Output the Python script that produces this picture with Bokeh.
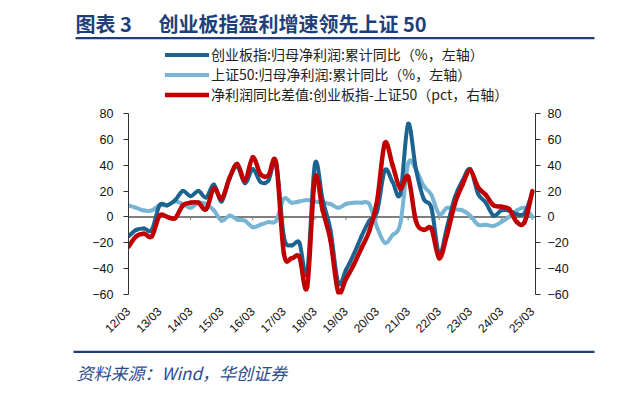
import pandas as pd
from bokeh.plotting import figure
from bokeh.models import (Range1d, LinearAxis, FixedTicker, Span, Legend, LegendItem,
                          Label, BoxAnnotation)
from bokeh.embed import file_html
from bokeh.resources import INLINE

# ---------------- data ----------------
quarters = pd.period_range("2012Q1", "2025Q1", freq="Q")  # 12/03 ... 25/03, 53 quarters
tick_years = list(range(2012, 2026))
tick_labels = ["12/03", "13/03", "14/03", "15/03", "16/03", "17/03", "18/03",
               "19/03", "20/03", "21/03", "22/03", "23/03", "24/03", "25/03"]
y_ticks = [-60, -40, -20, 0, 20, 40, 60, 80]

# 创业板指:归母净利润:累计同比 (%)
cyb = [-15, -10, -9, -10, 9, 9, 13, 20, 16, 20, 15, 25, 12,
       30, 39, 26, 37, 27, 28, 41, -15, -22, -20, -43, 41, 13,
       -10, -51, -41, -29, -15, -3, 4, 36, 27, 18, 72, 37, 14,
       7, -29, -8, 15, 28, 37, 18, 11, 1, 5, 5, 2, 3, 19]
# 上证50:归母净利润:累计同比 (%)
sz50 = [9, 7, 5, 5, 9, 9, 12, 10, 7, 11, 10, 5, -3,
        1, -2, -3, -8, -6, -4, -3, 14, 11, 12, 13, 12, 11,
        10, 7, 10, 11, 11, 10, -8, -20, -14, -5, 41, 37, 24,
        17, 2, 7, 6, 5, 1, -6, -6, -7, -4, 0, 5, 7, 0]
# 净利润同比差值:创业板指-上证50 (pct)
diff = [-23, -15, -13, -15, 1, 0, -1, 9, 11, 11, 6, 22, 14,
        30, 41, 28, 46, 33, 32, 42, -28, -32, -31, -54, 30, 5,
        -18, -58, -48, -37, -24, -11, 12, 57, 40, 22, 31, -3, -10,
        -9, -32, -14, 10, 25, 36, 23, 17, 9, 8, 6, -4, -4, 20]

labels = ["创业板指:归母净利润:累计同比（%，左轴）",
          "上证50:归母净利润:累计同比（%，左轴）",
          "净利润同比差值:创业板指-上证50（pct，右轴）"]
title_a = "图表 3"
title_b = "创业板指盈利增速领先上证 50"
source = "资料来源：Wind，华创证券"

x = [q.year + (q.quarter - 1) / 4 for q in quarters]

C_DARK = "#1B6390"
C_LIGHT = "#78B4D3"
C_RED = "#C00000"
NAVY = "#1F3F7A"
AX_FONT = "Liberation Sans"
CJK = "Noto Sans CJK SC"
W = 612


def smooth_segments(xs, ys):
    """Bezier pieces through every data point (smoothed-line rendering)."""
    n = len(xs)
    out = {k: [] for k in ("x0", "y0", "x1", "y1", "cx0", "cy0", "cx1", "cy1")}
    for i in range(n - 1):
        xm, ym = (xs[i - 1], ys[i - 1]) if i > 0 else (xs[i], ys[i])
        xp, yp = (xs[i + 2], ys[i + 2]) if i + 2 < n else (xs[i + 1], ys[i + 1])
        out["x0"].append(xs[i]); out["y0"].append(ys[i])
        out["x1"].append(xs[i + 1]); out["y1"].append(ys[i + 1])
        out["cx0"].append(xs[i] + (xs[i + 1] - xm) / 6)
        out["cy0"].append(ys[i] + (ys[i + 1] - ym) / 6)
        out["cx1"].append(xs[i + 1] - (xp - xs[i]) / 6)
        out["cy1"].append(ys[i + 1] - (yp - ys[i]) / 6)
    return out


def blank(height, name):
    f = figure(width=W, height=height, output_backend="svg", toolbar_location=None,
               x_range=Range1d(0, W), y_range=Range1d(height, 0),
               x_axis_location=None, y_axis_location=None,
               min_border=0, name=name)
    f.outline_line_color = None
    f.xgrid.visible = False
    f.ygrid.visible = False
    return f


# ---------------- header: title + rule ----------------
head = blank(40, "header")
head.add_layout(Label(x=75, y=22.5, text=title_a, text_font=CJK, text_font_style="bold",
                      text_font_size="20px", text_color=NAVY, text_baseline="middle"))
head.add_layout(Label(x=158, y=22.5, text=title_b, text_font=CJK, text_font_style="bold",
                      text_font_size="20px", text_color=NAVY, text_baseline="middle"))
head.add_layout(BoxAnnotation(left=75, right=594, top=36.6, bottom=38.8,
                              fill_color=NAVY, fill_alpha=1, line_color=None))

# ---------------- main chart ----------------
p = figure(frame_width=407, frame_height=254, output_backend="svg", toolbar_location=None,
           x_range=Range1d(2012, 2025.1), y_range=Range1d(-60, 136.45),
           min_border_left=128, min_border_right=77, min_border_top=0,
           min_border_bottom=51)
p.extra_y_ranges = {"right": Range1d(-60, 136.45)}
p.outline_line_color = None
p.xgrid.visible = False
p.ygrid.visible = False

# zero line with small ticks
p.add_layout(Span(location=0, dimension="width", line_color="#7F7F7F",
                  line_width=2, level="underlay"))
p.segment(x0=tick_years, y0=[0] * len(tick_years), x1=tick_years,
          y1=[-2.4] * len(tick_years), line_color="#7F7F7F", line_width=1)

r_light = p.bezier(**smooth_segments(x, sz50), line_color=C_LIGHT, line_width=4,
                   line_cap="round")
r_dark = p.bezier(**smooth_segments(x, cyb), line_color=C_DARK, line_width=4,
                  line_cap="round")
r_red = p.bezier(**smooth_segments(x, diff), line_color=C_RED, line_width=4.5,
                 line_cap="round", y_range_name="right")


def style_y(ax, standoff):
    ax.ticker = FixedTicker(ticks=y_ticks)
    ax.bounds = (-60, 80)
    ax.axis_line_color = "#333333"
    ax.major_tick_line_color = "#333333"
    ax.major_tick_out = 5
    ax.major_tick_in = 0
    ax.minor_tick_line_color = None
    ax.major_label_standoff = standoff
    ax.major_label_text_font = AX_FONT
    ax.major_label_text_font_size = "12.5px"
    ax.major_label_text_color = "#111111"


style_y(p.yaxis[0], 10)
ra = LinearAxis(y_range_name="right")
style_y(ra, 7)
p.add_layout(ra, "right")

xa = p.xaxis[0]
xa.ticker = FixedTicker(ticks=tick_years)
xa.major_label_overrides = {yr: lab for yr, lab in zip(tick_years, tick_labels)}
xa.axis_line_color = None
xa.major_tick_line_color = None
xa.minor_tick_line_color = None
xa.major_label_orientation = 0.785398
xa.major_label_standoff = 9
xa.major_label_text_font = AX_FONT
xa.major_label_text_font_size = "12px"
xa.major_label_text_color = "#111111"

legend = Legend(items=[LegendItem(label=labels[0], renderers=[r_dark]),
                       LegendItem(label=labels[1], renderers=[r_light]),
                       LegendItem(label=labels[2], renderers=[r_red])],
                location=(37, 190), orientation="vertical",
                glyph_width=44, glyph_height=19, label_height=19, spacing=0,
                padding=0, margin=0, label_standoff=2,
                border_line_color=None, background_fill_alpha=0,
                label_text_font=CJK, label_text_font_size="14px",
                label_text_color="#222222")
p.add_layout(legend)

# ---------------- footer: rule + source ----------------
foot = blank(40, "footer")
foot.add_layout(BoxAnnotation(left=73, right=594, top=5.3, bottom=7.5,
                              fill_color=NAVY, fill_alpha=1, line_color=None))
foot.add_layout(Label(x=76, y=27, text=source, text_font=CJK, text_font_style="italic",
                      text_font_size="17px", text_color="#2B4C8C", text_baseline="middle"))

open("out.html", "w").write(file_html([head, p, foot], INLINE))
